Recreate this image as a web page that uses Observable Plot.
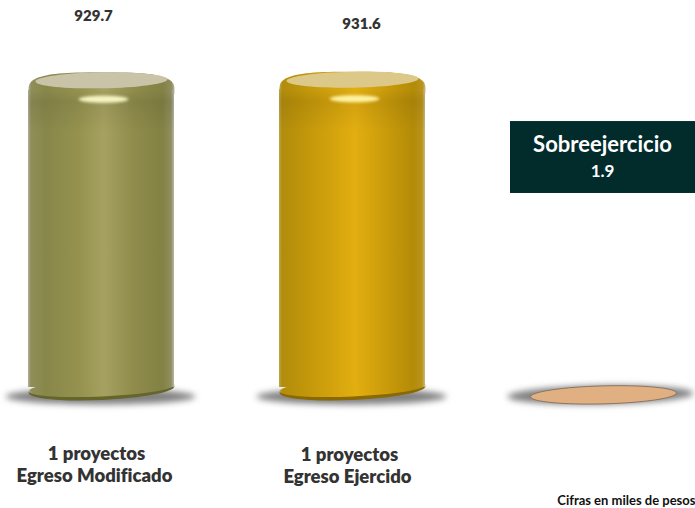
<!DOCTYPE html>
<html>
<head>
<meta charset="utf-8">
<script src="https://cdn.jsdelivr.net/npm/d3@7"></script>
<script src="https://cdn.jsdelivr.net/npm/@observablehq/plot@0.6"></script>
<style>
html,body{margin:0;padding:0;background:#fff;overflow:hidden}
svg{display:block}
text{font-variant-ligatures:none}
</style>
</head>
<body>
<div id="chart"></div>
<script>
const categories = ["Egreso Modificado", "Egreso Ejercido", "Sobreejercicio"];
const values = [929.7, 931.6, 1.9];
const valueLabels = ["929.7", "931.6", "1.9"];
const projects = ["1 proyectos", "1 proyectos"];
const calloutSpan = [605, 827];
const caption = "Cifras en miles de pesos";

const rows = categories.map((c, i) => ({category: c, value: values[i], label: valueLabels[i]}));
const cylinders = rows.slice(0, 2);
const palettes = ["olive", "gold"];

function ellipse(rx, ry, deg = 0) {
  const t = deg * Math.PI / 180, c = Math.cos(t), s = Math.sin(t), k = 0.5523;
  const p = (x, y) => [x * c - y * s, x * s + y * c];
  return {
    draw(ctx) {
      ctx.moveTo(...p(rx, 0));
      ctx.bezierCurveTo(...p(rx, k * ry), ...p(k * rx, ry), ...p(0, ry));
      ctx.bezierCurveTo(...p(-k * rx, ry), ...p(-rx, k * ry), ...p(-rx, 0));
      ctx.bezierCurveTo(...p(-rx, -k * ry), ...p(-k * rx, -ry), ...p(0, -ry));
      ctx.bezierCurveTo(...p(k * rx, -ry), ...p(rx, -k * ry), ...p(rx, 0));
      ctx.closePath();
    }
  };
}
// rounded shoulder of a cylinder: a superellipse
function dome(a, b, n = 3) {
  return {
    draw(ctx) {
      for (let i = 0; i <= 96; i++) {
        const t = i / 96 * 2 * Math.PI, c = Math.cos(t), s = Math.sin(t);
        const x = a * Math.sign(c) * Math.pow(Math.abs(c), 2 / n);
        const y = b * Math.sign(s) * Math.pow(Math.abs(s), 2 / n);
        i ? ctx.lineTo(x, y) : ctx.moveTo(x, y);
      }
      ctx.closePath();
    }
  };
}

const defs = () => {
  const g = document.createElementNS("http://www.w3.org/2000/svg", "g");
  const stops = (id, list) =>
    `<linearGradient id="${id}" x1="0" x2="1" y1="0" y2="0">` +
    list.map(([o, c]) => `<stop offset="${o}" stop-color="${c}"/>`).join("") +
    `</linearGradient>`;
  g.innerHTML = `<defs>` +
    stops("olive", [[0, "#b0af98"], [0.02, "#8f8e58"], [0.12, "#88874a"], [0.35, "#95924f"], [0.52, "#a6a160"], [0.72, "#8f8c4c"], [0.92, "#838143"], [0.98, "#8f8e60"], [1, "#b8b7a4"]]) +
    stops("gold", [[0, "#bba650"], [0.02, "#b28c0c"], [0.12, "#bb920a"], [0.35, "#d2a20d"], [0.52, "#e2ae10"], [0.72, "#cb9c0b"], [0.92, "#b38b08"], [0.98, "#b9941c"], [1, "#cdb880"]]) +
    `<linearGradient id="shade" x1="0" x2="0" y1="0" y2="1">
       <stop offset="0" stop-color="#000" stop-opacity="0"/>
       <stop offset="0.04" stop-color="#000" stop-opacity="0.07"/>
       <stop offset="0.14" stop-color="#000" stop-opacity="0"/>
     </linearGradient>` +
    `</defs>`;
  return g;
};

const mkCyl = (row, i) => {
  const data = [row];
  const fill = `url(#${palettes[i]})`;
  const bottomFill = i === 0 ? "#66652c" : "#8a6803";
  const face = i === 0 ? "#c9c4a8" : "#dcc98a";
  const glow = i === 0 ? "#f7f4c4" : "#fff2a0";
  return [
    Plot.dot(data, {x: "category", y: 0, r: 1, symbol: ellipse(95, 8, 0), fill: "#808080", dx: -1, dy: 7, imageFilter: "blur(3.2px)"}),
    Plot.dot(data, {x: "category", y: 0, r: 1, symbol: ellipse(73, 10.5, -2.5), fill: bottomFill}),
    Plot.dot(data, {x: "category", y: 0, r: 1, symbol: ellipse(73, 8.5, -2.5), fill, dy: -1.5}),
    Plot.dot(data, {x: "category", y: "value", r: 1, symbol: dome(73, 18), fill, dy: 2}),
    Plot.barY(data, {x: "category", y: "value", fill, insetTop: 2, insetBottom: 2}),
    Plot.barY(data, {x: "category", y: "value", fill: "url(#shade)", insetTop: 2, insetBottom: 2}),
    Plot.dot(data, {x: "category", y: "value", r: 1, symbol: ellipse(66, 8, -1), fill: face, dy: -8, imageFilter: "blur(0.7px)"}),
    Plot.dot(data, {x: "category", y: "value", r: 1, symbol: ellipse(25, 3.5, 0), fill: glow, dx: 2, dy: 11, imageFilter: "blur(1.8px)"})
  ];
};

const labelStyle = {fontFamily: "Lato", fontWeight: 800, fill: "#333"};

const chart = Plot.plot({
  width: 695,
  height: 508,
  margin: 0,
  style: {background: "#fff", overflow: "hidden"},
  x: {domain: categories, range: [28, 677], paddingInner: 0.418, paddingOuter: 0, align: 0.5, axis: null},
  y: {domain: [0, 1000], range: [389, 65], axis: null},
  marks: [
    defs,
    ...cylinders.flatMap(mkCyl),

    // empty third column
    Plot.dot([rows[2]], {x: "category", y: "value", r: 1, symbol: ellipse(93, 9.5, -1), fill: "#808080", dx: -3, dy: 6, imageFilter: "blur(3px)"}),
    Plot.dot([rows[2]], {x: "category", y: "value", r: 1, symbol: ellipse(73, 9, -1.5), fill: "#e0b083", stroke: "#8d7560", strokeWidth: 1, dy: 6}),

    // value labels
    Plot.text([rows[0]], {x: "category", y: "value", text: "label", ...labelStyle, fontSize: 15, dx: -8, dy: -72}),
    Plot.text([rows[1]], {x: "category", y: "value", text: "label", ...labelStyle, fontSize: 15, dx: 9, dy: -63}),

    // callout
    Plot.barY([rows[2]], {x: "category", y1: calloutSpan[0], y2: calloutSpan[1], fill: "#022b2b", insetLeft: -20, insetRight: -19}),
    Plot.text([rows[2]], {x: "category", y: calloutSpan[1], text: "category", fontFamily: "Lato", fontWeight: 700, fontSize: 22, fill: "#fff", dx: -1, dy: 23}),
    Plot.text([rows[2]], {x: "category", y: calloutSpan[1], text: "label", fontFamily: "Lato", fontWeight: 700, fontSize: 17, fill: "#fff", dx: -1, dy: 50}),

    // footer labels under each cylinder
    Plot.text([rows[0]], {x: "category", y: 0, text: () => projects[0], ...labelStyle, fontSize: 18.5, dx: -5, dy: 65}),
    Plot.text([rows[0]], {x: "category", y: 0, text: "category", ...labelStyle, fontSize: 18.5, dx: -7, dy: 87}),
    Plot.text([rows[1]], {x: "category", y: 0, text: () => projects[1], ...labelStyle, fontSize: 18.5, dx: -3, dy: 66}),
    Plot.text([rows[1]], {x: "category", y: 0, text: "category", ...labelStyle, fontSize: 18.5, dx: -5, dy: 88}),

    Plot.text([caption], {frameAnchor: "bottom-right", text: d => d, fontFamily: "Lato", fontWeight: 700, fontSize: 13, fill: "#111", dy: -4})
  ]
});
document.getElementById("chart").append(chart);
</script>
</body>
</html>
